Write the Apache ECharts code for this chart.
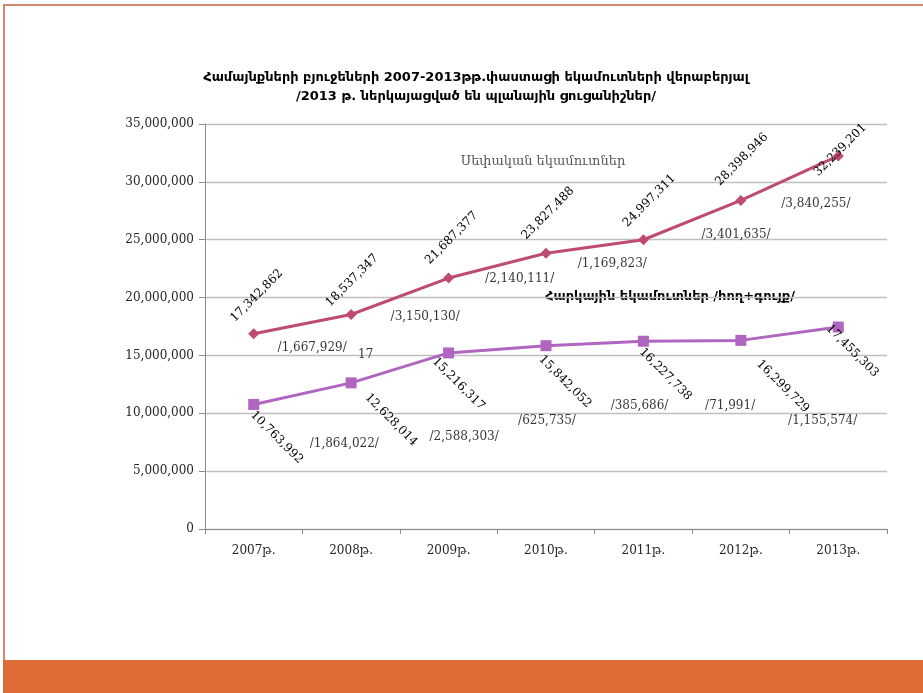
<!DOCTYPE html>
<html>
<head>
<meta charset="utf-8">
<script src="https://cdn.jsdelivr.net/npm/echarts@6/dist/echarts.min.js"></script>
<style>
html,body{margin:0;padding:0;background:#fff;}
#chart{width:923px;height:693px;}
</style>
</head>
<body>
<div id="chart"></div>
<script>
// ---- data ----
const categories = ['2007թ.', '2008թ.', '2009թ.', '2010թ.', '2011թ.', '2012թ.', '2013թ.'];
const ownValues = [16869418, 18537347, 21687377, 23827488, 24997311, 28398946, 32239201];
const ownLabels = ['17,342,862', '18,537,347', '21,687,377', '23,827,488', '24,997,311', '28,398,946', '32,239,201'];
const taxValues = [10763992, 12628014, 15216317, 15842052, 16227738, 16299729, 17455303];
const taxLabels = ['10,763,992', '12,628,014', '15,216,317', '15,842,052', '16,227,738', '16,299,729', '17,455,303'];
const ownDiffs = ['/1,667,929/', '/3,150,130/', '/2,140,111/', '/1,169,823/', '/3,401,635/', '/3,840,255/'];
const taxDiffs = ['/1,864,022/', '/2,588,303/', '/625,735/', '/385,686/', '/71,991/', '/1,155,574/'];
const strayText = '17';
const yTicks = [0, 5000000, 10000000, 15000000, 20000000, 25000000, 30000000, 35000000];
const titleLines = ['Համայնքների բյուջեների 2007-2013թթ.փաստացի եկամուտների վերաբերյալ', '/2013 թ. ներկայացված են պլանային ցուցանիշներ/'];
const ownName = 'Սեփական եկամուտներ';
const taxName = 'Հարկային եկամուտներ /հող+գույք/';

// ---- layout (annotation anchors in data space: [category position, value]) ----
const ownDiffPos = [[0.60, 15.64e6], [1.76, 18.32e6], [2.73, 21.6e6], [3.68, 22.9e6], [4.95, 25.4e6], [5.77, 28.1e6]];
const taxDiffPos = [[0.93, 7.35e6], [2.16, 7.95e6], [3.01, 9.33e6], [3.96, 10.63e6], [4.89, 10.63e6], [5.84, 9.33e6]];
const strayPos = [1.15, 15.04e6];
// screen-space offsets of label centres from their points
const ownLabelOff = [[3, -38], [1, -34], [3, -40], [2, -40], [6, -39], [1, -41], [2, -6]];
const taxLabelOff = [[23, 33], [40, 37], [10, 31], [19, 36], [22, 33], [42, 46], [14, 24]];

const fmt = v => v.toLocaleString('en-US');
const serif = 'DejaVu Serif';
const RED = '#BE4B72';
const PURPLE = '#B066C0';

// label offsets are applied in the rotated label frame: convert screen offset
function toLocal(off, deg) {
  const t = deg * Math.PI / 180, c = Math.cos(t), s = Math.sin(t);
  return [off[0] * c - off[1] * s, off[0] * s + off[1] * c];
}

const chart = echarts.init(document.getElementById('chart'));

const ownData = ownValues.map((v, i) => ({
  value: v,
  label: { formatter: ownLabels[i], offset: toLocal(ownLabelOff[i], 45) }
}));
const taxData = taxValues.map((v, i) => ({
  value: v,
  label: { formatter: taxLabels[i], offset: toLocal(taxLabelOff[i], -45) }
}));
const annData = []
  .concat(ownDiffs.map((t, i) => ({ value: ownDiffPos[i], name: t })))
  .concat(taxDiffs.map((t, i) => ({ value: taxDiffPos[i], name: t })))
  .concat([{ value: strayPos, name: strayText }]);

chart.setOption({
  animation: false,
  backgroundColor: '#fff',
  title: {
    text: titleLines.join('\n'),
    left: 471,
    top: 63,
    textAlign: 'center',
    textStyle: { fontFamily: 'DejaVu Sans', fontWeight: 'bold', fontSize: 13, color: '#000', lineHeight: 19 }
  },
  grid: { left: 205, right: 36, top: 124, bottom: 164, containLabel: false },
  xAxis: [{
    type: 'category',
    data: categories,
    boundaryGap: true,
    axisLine: { lineStyle: { color: '#8c8c8c', width: 1 } },
    axisTick: { show: true, length: 5, lineStyle: { color: '#8c8c8c' } },
    axisLabel: { fontFamily: serif, fontSize: 12, color: '#262626', margin: 16 }
  }, {
    type: 'value',
    min: -0.5,
    max: 6.5,
    show: false
  }],
  yAxis: {
    type: 'value',
    min: 0,
    max: 35000000,
    interval: 5000000,
    axisLine: { show: true, onZero: false, lineStyle: { color: '#8c8c8c', width: 1 } },
    axisTick: { show: true, length: 6, lineStyle: { color: '#8c8c8c' } },
    splitLine: { lineStyle: { color: '#bfbfbf', width: 1.3 } },
    axisLabel: {
      fontFamily: serif, fontSize: 12, color: '#262626', margin: 11,
      formatter: v => yTicks.indexOf(v) >= 0 ? fmt(v) : ''
    }
  },
  graphic: [
    { type: 'rect', shape: { x: 4, y: 5, width: 930, height: 660 }, style: { fill: 'none', stroke: '#d4886b', lineWidth: 2 }, z: -1 },
    { type: 'rect', shape: { x: 3, y: 660, width: 925, height: 40 }, style: { fill: '#df6c37' }, z: 10 },
    { type: 'text', x: 543, y: 162, style: { text: ownName, fontFamily: serif, fontSize: 13, fill: '#595959', align: 'center', verticalAlign: 'middle' } },
    { type: 'text', x: 670, y: 297, style: { text: taxName, fontFamily: 'DejaVu Sans', fontWeight: 'bold', fontSize: 13, fill: '#000', align: 'center', verticalAlign: 'middle' } }
  ],
  series: [{
    name: ownName,
    type: 'line',
    data: ownData,
    symbol: 'diamond',
    symbolSize: 11,
    lineStyle: { color: RED, width: 3 },
    itemStyle: { color: RED },
    label: { show: true, position: 'inside', rotate: 45, fontFamily: serif, fontSize: 12, color: '#000', align: 'center', verticalAlign: 'middle' },
    z: 3
  }, {
    name: taxName,
    type: 'line',
    data: taxData,
    symbol: 'rect',
    symbolSize: 11,
    lineStyle: { color: PURPLE, width: 3 },
    itemStyle: { color: PURPLE },
    label: { show: true, position: 'inside', rotate: -45, fontFamily: serif, fontSize: 12, color: '#000', align: 'center', verticalAlign: 'middle' },
    z: 3
  }, {
    type: 'scatter',
    xAxisIndex: 1,
    data: annData,
    symbolSize: 0,
    silent: true,
    label: { show: true, position: 'inside', formatter: p => p.name, fontFamily: serif, fontSize: 12, color: '#000' },
    z: 4
  }]
});
</script>
</body>
</html>
